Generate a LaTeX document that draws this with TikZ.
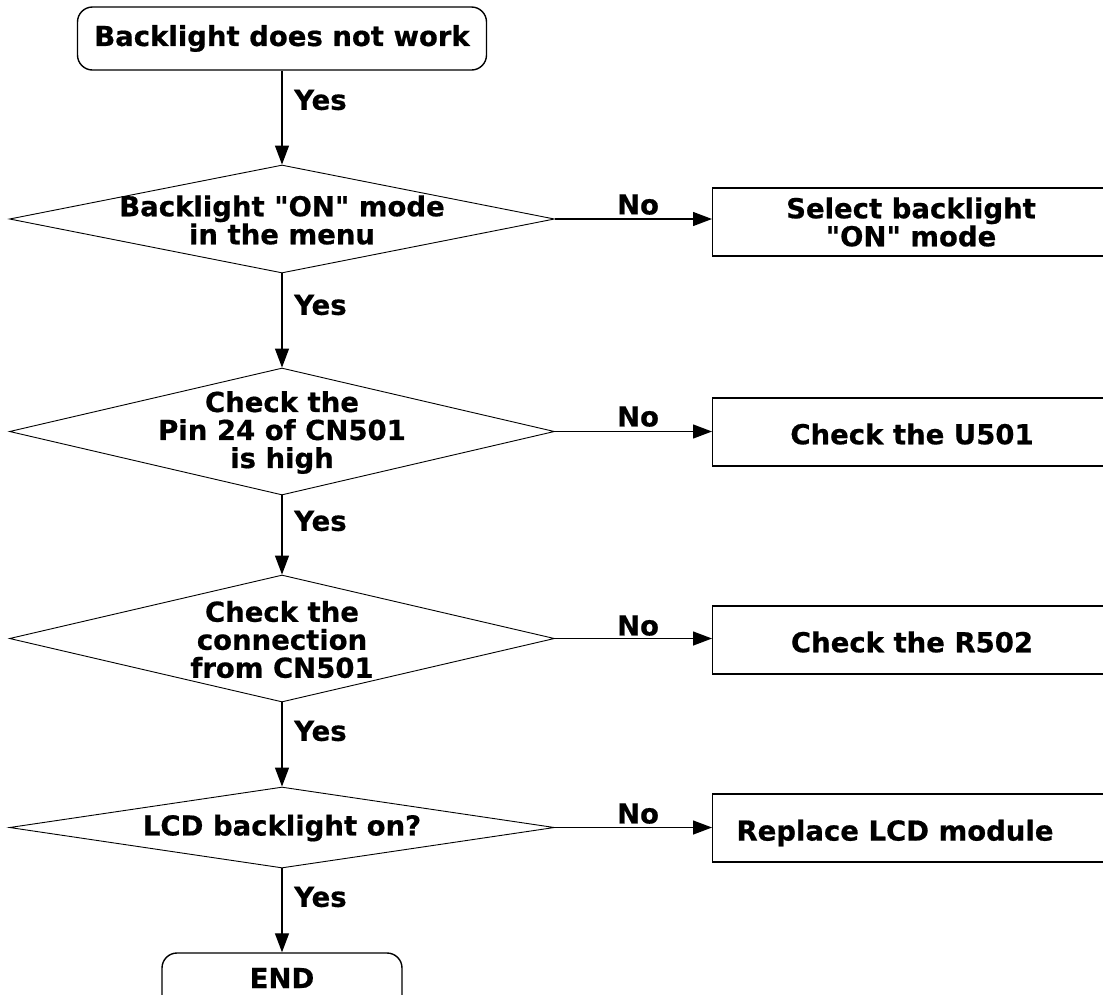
\documentclass[tikz,border=0pt]{standalone}
\usepackage{fontspec}
\setmainfont{DejaVu Sans}[Ligatures=TeXOff,BoldFeatures={FakeBold=0.6}]
\usetikzlibrary{shapes.geometric,arrows.meta}
\begin{document}
\begin{tikzpicture}[x=1pt,y=-1pt,
  every node/.style={font=\fontsize{27.5}{28}\selectfont\bfseries},
  decision/.style={draw,shape=diamond,line width=0.9pt,inner sep=0pt,minimum width=545pt},
  rbox/.style={draw,line width=1.4pt,rounded corners=15pt,inner sep=0pt},
  act/.style={draw,line width=1.4pt,inner sep=0pt,minimum width=398pt,minimum height=68pt},
  txt/.style={align=center,inner sep=0pt},
  arr/.style={line width=1.3pt,-{Triangle[length=19pt,width=14pt]}},
  yesl/.style={anchor=west,inner sep=0pt},
  nol/.style={anchor=south,inner sep=0pt}]
\useasboundingbox (0,0) rectangle (1103,994);
% start
\node[rbox,minimum width=409pt,minimum height=63pt] (start) at (282,38.5) {Backlight does not work};
% decisions
\node[decision,minimum height=108pt] (d1) at (282,219) {};
\node[txt] (d1t) at (282,220) {Backlight "ON" mode\\in the menu};
\node[decision,minimum height=127pt] (d2) at (282,431.5) {};
\node[txt] (d2t) at (282,432.5) {Check the\\Pin 24 of CN501\\is high};
\node[decision,minimum height=127pt] (d3) at (282,638.5) {};
\node[txt] (d3t) at (282,639.5) {Check the\\connection\\from CN501};
\node[decision,minimum height=81pt] (d4) at (282,827.5) {};
\node[txt] (d4t) at (282,828) {LCD backlight on?};
% actions
\node[act,anchor=west] (a1) at (712,222) {};
\node[txt] (a1t) at (911,222) {Select backlight\\"ON" mode};
\node[act,anchor=west] (a2) at (712,432) {};
\node[txt] (a2t) at (912,434) {Check the U501};
\node[act,anchor=west] (a3) at (712,640) {};
\node[txt] (a3t) at (912,642) {Check the R502};
\node[act,anchor=west] (a4) at (712,828) {};
\node[txt] (a4t) at (895,833) {Replace LCD module};
% end
\node[rbox,minimum width=240pt,minimum height=63pt] (end) at (282,984.5) {};
\node[txt] (endt) at (282,978) {END};
% connectors
\draw[arr] (start.south) -- (d1.north);
\draw[arr] (d1.south) -- (d2.north);
\draw[arr] (d2.south) -- (d3.north);
\draw[arr] (d3.south) -- (d4.north);
\draw[arr] (d4.south) -- (end.north);
\node[yesl] (y1) at (294,100) {Yes};
\node[yesl] (y2) at (294,305) {Yes};
\node[yesl] (y3) at (294,521) {Yes};
\node[yesl] (y4) at (294,731) {Yes};
\node[yesl] (y5) at (294,897) {Yes};
\draw[arr] (d1.east) -- (a1.west |- d1.east);
\draw[arr] (d2.east) -- (a2.west |- d2.east);
\draw[arr] (d3.east) -- (a3.west |- d3.east);
\draw[arr] (d4.east) -- (a4.west |- d4.east);
\node[nol] (n1) at (638,215) {No};
\node[nol] (n2) at (638,427) {No};
\node[nol] (n3) at (638,636) {No};
\node[nol] (n4) at (638,824) {No};
\end{tikzpicture}
\end{document}
